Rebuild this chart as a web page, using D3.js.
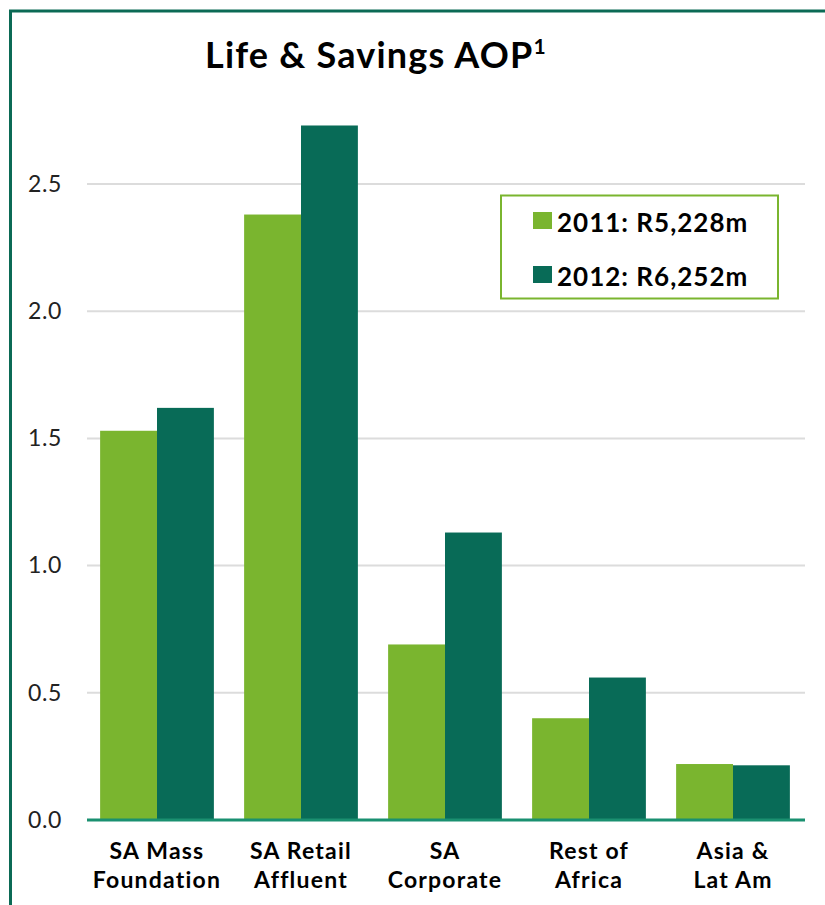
<!DOCTYPE html>
<html>
<head>
<meta charset="utf-8">
<script src="https://cdn.jsdelivr.net/npm/d3@7"></script>
<style>
  body { margin: 0; background: #fff; }
  svg text { font-family: Lato, "Open Sans", sans-serif; }
</style>
</head>
<body>
<div id="chart"></div>
<script>
// data
var categories = ["SA Mass|Foundation", "SA Retail|Affluent", "SA|Corporate", "Rest of|Africa", "Asia &|Lat Am"];
var series = ["2011", "2012"];
var legendLabels = ["2011: R5,228m", "2012: R6,252m"];
var values2011 = [1.53, 2.38, 0.69, 0.40, 0.22];
var values2012 = [1.62, 2.73, 1.13, 0.56, 0.215];
var yTicks = [0, 0.5, 1.0, 1.5, 2.0, 2.5];

var colors = {"2011": "#7ab52f", "2012": "#086b57"};

var W = 825, H = 905;
var svg = d3.select("#chart").append("svg")
    .attr("width", W)
    .attr("height", H);

// frame (top + left border)
svg.append("path")
    .attr("d", "M10.5,905 L10.5,11 L825,11")
    .attr("fill", "none")
    .attr("stroke", "#0b6a55")
    .attr("stroke-width", 3);

// title
var title = svg.append("text")
    .attr("x", 205)
    .attr("y", 68)
    .attr("font-size", 36)
    .attr("font-weight", "bold")
    .attr("letter-spacing", 1.2)
    .attr("fill", "#000");
title.append("tspan").text("Life & Savings AOP");
title.append("tspan").attr("font-size", 21).attr("dy", -14).text("1");

// scales
var x = d3.scaleBand()
    .domain(categories)
    .range([85, 805])
    .paddingInner(0.21)
    .paddingOuter(0.105);

var x1 = d3.scaleBand()
    .domain(series)
    .range([0, x.bandwidth()]);

var y = d3.scaleLinear()
    .domain([0, 2.5])
    .range([820, 184]);

// gridlines
svg.append("g")
    .selectAll("line")
    .data(yTicks.filter(function (d) { return d > 0; }))
    .enter()
    .append("line")
    .attr("x1", 87)
    .attr("x2", 805)
    .attr("y1", function (d) { return y(d); })
    .attr("y2", function (d) { return y(d); })
    .attr("stroke", "#dcdcdc")
    .attr("stroke-width", 2);

// y axis labels
var yAxis = svg.append("g")
    .attr("transform", "translate(62,0)")
    .call(d3.axisLeft(y).tickValues(yTicks).tickFormat(d3.format(".1f")).tickSize(0).tickPadding(0));
yAxis.select(".domain").remove();
yAxis.selectAll("text")
    .attr("font-size", 23)
    .attr("fill", "#222")
    .attr("letter-spacing", 0.6)
    .attr("font-family", "\"Open Sans\", sans-serif");

// bars
var rows = categories.map(function (c, i) {
    return {cat: c, vals: [{s: "2011", v: values2011[i]}, {s: "2012", v: values2012[i]}]};
});

var groups = svg.append("g")
    .selectAll("g")
    .data(rows)
    .enter()
    .append("g")
    .attr("transform", function (d) { return "translate(" + x(d.cat) + ",0)"; });

groups.selectAll("rect")
    .data(function (d) { return d.vals; })
    .enter()
    .append("rect")
    .attr("x", function (d) { return x1(d.s); })
    .attr("width", x1.bandwidth())
    .attr("y", function (d) { return y(d.v); })
    .attr("height", function (d) { return y(0) - y(d.v); })
    .attr("fill", function (d) { return colors[d.s]; });

// x axis line
svg.append("line")
    .attr("x1", 87)
    .attr("x2", 805)
    .attr("y1", 820)
    .attr("y2", 820)
    .attr("stroke", "#1a9070")
    .attr("stroke-width", 3);

// category labels
var xl = svg.append("g")
    .selectAll("text")
    .data(categories)
    .enter()
    .append("text")
    .attr("x", function (d) { return x(d) + x.bandwidth() / 2; })
    .attr("y", 859)
    .attr("text-anchor", "middle")
    .attr("font-size", 23)
    .attr("font-weight", "bold")
    .attr("letter-spacing", 1.2)
    .attr("fill", "#000");
xl.each(function (d) {
    var parts = d.split("|");
    var t = d3.select(this);
    parts.forEach(function (p, i) {
        t.append("tspan")
            .attr("x", x(d) + x.bandwidth() / 2)
            .attr("dy", i === 0 ? 0 : 29)
            .text(p);
    });
});

// legend
var lg = svg.append("g");
lg.append("rect")
    .attr("x", 501)
    .attr("y", 195.5)
    .attr("width", 277)
    .attr("height", 103)
    .attr("fill", "#fff")
    .attr("stroke", "#7ab52f")
    .attr("stroke-width", 2);

var items = lg.selectAll("g")
    .data(series)
    .enter()
    .append("g")
    .attr("transform", function (d, i) { return "translate(533," + (212 + i * 54) + ")"; });
items.append("rect")
    .attr("width", 19)
    .attr("height", 17)
    .attr("fill", function (d) { return colors[d]; });
items.append("text")
    .attr("x", 24)
    .attr("y", 20)
    .attr("font-size", 26)
    .attr("font-weight", "bold")
    .attr("letter-spacing", 1)
    .attr("fill", "#000")
    .text(function (d, i) { return legendLabels[i]; });
</script>
</body>
</html>
